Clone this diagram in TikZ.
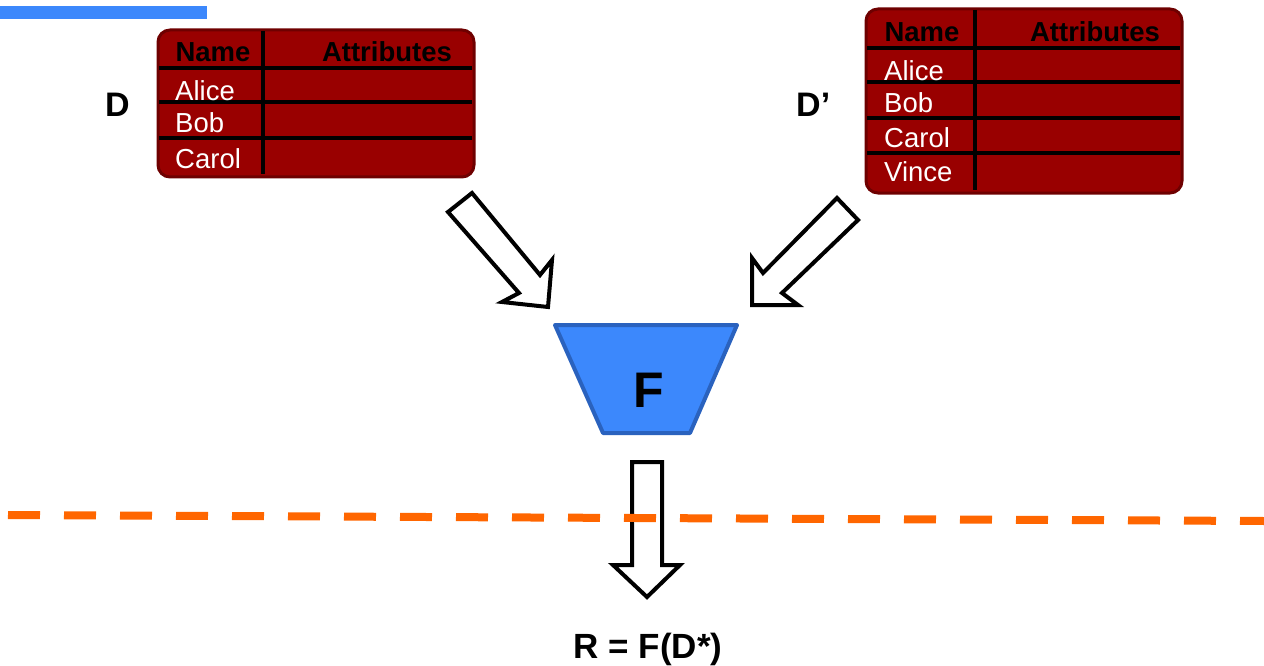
\documentclass[tikz,border=0pt]{standalone}
\usepackage{fontspec}
\setmainfont{Liberation Sans}
\definecolor{tred}{HTML}{990000}
\definecolor{tredb}{HTML}{6E0000}
\definecolor{fblue}{HTML}{3C88FC}
\definecolor{fblueb}{HTML}{2A62BE}
\definecolor{dorange}{HTML}{FF6600}
\begin{document}
\begin{tikzpicture}[x=1pt,y=-1pt,
  tablebox/.style={draw=tredb,fill=tred,line width=3pt,rounded corners=12pt,inner sep=0pt},
  grid/.style={black,line width=3.5pt},
  hdr/.style={font=\fontsize{27.5}{30}\selectfont\bfseries,text=black,anchor=base,inner sep=0pt},
  row/.style={font=\fontsize{27.5}{30}\selectfont,text=white,anchor=base west,inner sep=0pt},
  lbl/.style={font=\fontsize{34}{36}\selectfont\bfseries,anchor=base,inner sep=0pt},
  blockarrow/.style={draw=black,fill=white,line width=4pt,line join=miter}
]
\useasboundingbox (0,0) rectangle (1264,666);
% blue bar
\fill[fblue] (0,6) rectangle (207,19);

% Table D
\node[tablebox,minimum width=316pt,minimum height=147pt] (tD) at (316,103.5) {};
\draw[grid] (263,31) -- (263,174);
\draw[grid] (159,68) -- (472,68);
\draw[grid] (159,102) -- (472,102);
\draw[grid] (159,138) -- (472,138);
\node[hdr] (dname) at (213,62) {Name};
\node[hdr] (dattr) at (387,62) {Attributes};
\node[row] (dalice) at (175,101) {Alice};
\node[row] (dbob) at (175,133) {Bob};
\node[row] (dcarol) at (175,168) {Carol};
\node[lbl] (lD) at (117.5,117) {D};

% Table D'
\node[tablebox,minimum width=316pt,minimum height=184pt] (tDp) at (1024,101) {};
\draw[grid] (975,10) -- (975,190);
\draw[grid] (867,48) -- (1180,48);
\draw[grid] (867,82) -- (1180,82);
\draw[grid] (867,118) -- (1180,118);
\draw[grid] (867,153) -- (1180,153);
\node[hdr] (pname) at (922,42) {Name};
\node[hdr] (pattr) at (1095,42) {Attributes};
\node[row] (palice) at (884,81) {Alice};
\node[row] (pbob) at (884,113) {Bob};
\node[row] (pcarol) at (884,148) {Carol};
\node[row] (pvince) at (884,182) {Vince};
\node[lbl,anchor=base west] (lDp) at (796,117) {D’};

% block arrows
\draw[blockarrow] (472,193) -- (540,275) -- (552,260) -- (548,307) -- (502,302) -- (519,293) -- (448,212) -- cycle;
\draw[blockarrow] (837,198) -- (763,273) -- (752,258) -- (752,305) -- (798,305) -- (782,293) -- (858,220) -- cycle;

% F trapezoid
\draw[fill=fblue,draw=fblueb,line width=4pt,line join=round] (555,325) -- (737,325) -- (690,433) -- (603,433) -- cycle;
\node[font=\fontsize{50}{52}\selectfont\bfseries,inner sep=0pt] (F) at (649,390) {F};

% down arrow
\draw[blockarrow] (632,462) -- (662,462) -- (662,565) -- (680,565) -- (647,597) -- (613,565) -- (632,565) -- cycle;

% dashed line
\coordinate (dl) at (8,515);
\coordinate (dr) at (1264,521);
\draw[dorange,line width=8pt,dash pattern=on 32pt off 24pt] (dl) -- (dr);

\node[lbl,font=\fontsize{35}{38}\selectfont\bfseries] (R) at (648,658) {R = F(D*)};
\end{tikzpicture}
\end{document}
